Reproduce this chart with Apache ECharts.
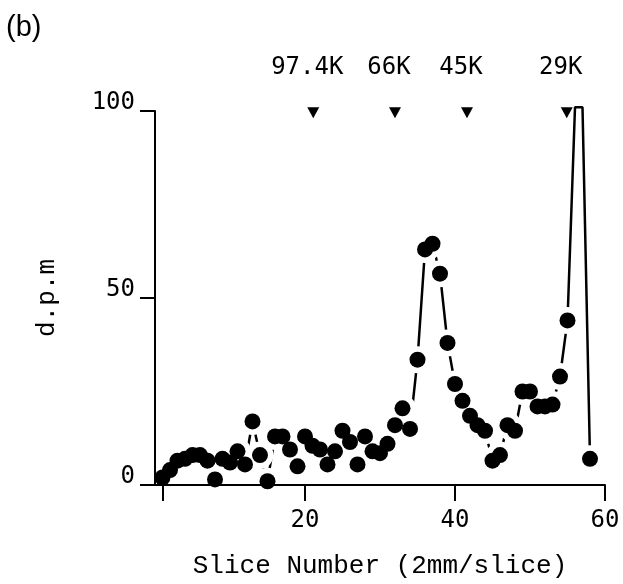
<!DOCTYPE html>
<html>
<head>
<meta charset="utf-8">
<script src="https://cdn.jsdelivr.net/npm/echarts@6/dist/echarts.min.js"></script>
<style>
html,body{margin:0;padding:0;background:#fff;}
#chart{width:623px;height:584px;}
</style>
</head>
<body>
<div id="chart"></div>
<script>
// Slice numbers (2 mm/slice)
const slices = [1,2,3,4,5,6,7,8,9,10,11,12,13,14,15,16,17,18,19,20,
  21,22,23,24,25,26,27,28,29,30,31,32,33,34,35,36,37,38,39,40,
  41,42,43,44,45,46,47,48,49,50,51,52,53,54,55,56,57,58];
// d.p.m per slice
const dpm = [2,4,6.5,7,8,8,6.5,1.5,7,6,9,5.5,17,8,1,13,13,9.5,5,13,
  10.5,9.5,5.5,9,14.5,11.5,5.5,13,9,8.5,11,16,20.5,15,33.5,63,64.5,56.5,38,27,
  22.5,18.5,16,14.5,6.5,8,16,14.5,25,25,21,21,21.5,29,44,101,101,7];
// slices where the trace is drawn without a dot (off-scale peak)
const noDotSlices = [56,57];
// molecular weight markers
const markerLabels = ['97.4K','66K','45K','29K'];
const markerSlices = [21.1,32,41.6,54.9];
const markerLevel = 99.5;
// tick labels
const xTickValues = [1,20,40,60];
const xLabelValues = [20,40,60];

const pts = slices.map((s,i)=>[s,dpm[i]]);
const dotPts = pts.filter(p=>noDotSlices.indexOf(p[0])<0);

const chart = echarts.init(document.getElementById('chart'), null, {renderer:'canvas'});
const monoSans = 'DejaVu Sans Mono';
const monoSerif = 'Liberation Mono';
chart.setOption({
  backgroundColor:'#fff',
  animation:false,
  graphic:[{type:'text', left:6, top:13, style:{text:'(b)', font:'29px "Liberation Sans"', fill:'#000'}}],
  grid:{left:155, right:18, top:111, bottom:96, containLabel:false},
  xAxis:{
    type:'value', min:0, max:60, interval:20, z:3,
    axisLine:{onZero:false, lineStyle:{color:'#000', width:2}},
    axisTick:{show:true, length:16, customValues:xTickValues, lineStyle:{color:'#000', width:2}},
    axisLabel:{customValues:xLabelValues, margin:24, fontFamily:monoSans, fontSize:24, color:'#000'},
    splitLine:{show:false},
    name:'Slice Number (2mm/slice)', nameLocation:'middle', nameGap:68,
    nameTextStyle:{fontFamily:monoSerif, fontSize:26, color:'#000'}
  },
  yAxis:{
    type:'value', min:0, max:100, interval:50, z:3,
    axisLine:{show:true, lineStyle:{color:'#000', width:2}},
    axisTick:{show:true, length:15, lineStyle:{color:'#000', width:2}},
    axisLabel:{margin:20, verticalAlign:'bottom', lineHeight:16, fontFamily:monoSans, fontSize:24, color:'#000'},
    splitLine:{show:false},
    name:'d.p.m', nameLocation:'middle', nameGap:95, nameRotate:90,
    nameTextStyle:{fontFamily:monoSerif, fontSize:26, color:'#000'}
  },
  series:[
    {type:'line', data:pts, symbol:'none', clip:false, z:1,
     lineStyle:{color:'#000', width:2.5}},
    {type:'scatter', data:dotPts, symbolSize:27, z:2, silent:true,
     itemStyle:{color:'#fff', opacity:1}},
    {type:'scatter', data:dotPts, symbolSize:16, z:4,
     itemStyle:{color:'#000', opacity:1}},
    {type:'scatter', z:5,
     data:markerSlices.map((x,i)=>({value:[x,markerLevel], name:markerLabels[i]})),
     symbol:'triangle', symbolRotate:180, symbolSize:[12,11],
     itemStyle:{color:'#000', opacity:1},
     label:{show:true, formatter:'{b}', position:'top', distance:28, offset:[-6,0],
       fontFamily:monoSans, fontSize:24, color:'#000'}}
  ]
});
</script>
</body>
</html>
